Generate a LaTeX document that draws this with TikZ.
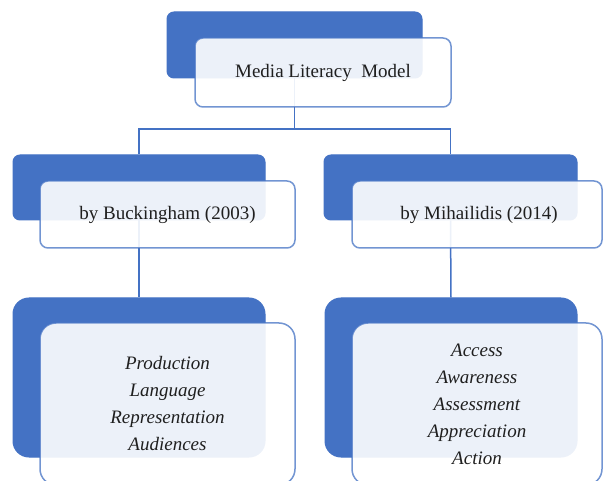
\documentclass[tikz,border=0pt]{standalone}
\usepackage{fontspec}
\setmainfont{Liberation Serif}
\definecolor{accent}{HTML}{4472C4}
\begin{document}
\begin{tikzpicture}[x=1pt,y=-1pt,
  darkbox/.style={draw=accent, fill=accent, rounded corners=7pt, inner sep=0pt, line width=1pt},
  lightbox/.style={draw=accent, draw opacity=0.75, fill=white, fill opacity=0.9, text opacity=1,
     rounded corners=8pt, line width=1.5pt, inner sep=0pt, align=center,
     font=\fontsize{19}{27}\selectfont, text=black!88},
  link/.style={draw=accent, line width=1.5pt}]
\useasboundingbox (0,0) rectangle (603,481);
\clip (0,0) rectangle (603,481);
% dark back boxes
\node[darkbox, minimum width=255pt, minimum height=66pt] (topd) at (294.5,45) {};
\node[darkbox, minimum width=252pt, minimum height=65pt] (lmd) at (139,187.5) {};
\node[darkbox, minimum width=253pt, minimum height=65pt] (rmd) at (450.5,187.5) {};
\node[darkbox, rounded corners=16pt, minimum width=252pt, minimum height=159pt] (lbd) at (139,377.5) {};
\node[darkbox, rounded corners=16pt, minimum width=252pt, minimum height=159pt] (rbd) at (451,377.5) {};
% connectors
\coordinate (j) at (294.5,129);
\draw[link] (topd.south) -- (j) -| (lmd.north);
\draw[link] (j) -| (rmd.north);
\draw[link] (lmd.south) -- (lbd.north);
\draw[link] (rmd.south) -- (rbd.north);
% light front boxes
\node[lightbox, minimum width=256pt, minimum height=69pt] (top) at (323,72.5) {Media Literacy\ \ Model};
\node[lightbox, minimum width=255pt, minimum height=67pt] (lm) at (167.5,214.5) {by Buckingham (2003)};
\node[lightbox, minimum width=250pt, minimum height=67pt] (rm) at (477,214.5) {\hspace{4pt}by Mihailidis (2014)};
\node[lightbox, rounded corners=16pt, minimum width=255pt, minimum height=162pt] (lb) at (167.5,404)
  {\itshape Production\\\itshape Language\\\itshape Representation\\\itshape Audiences};
\node[lightbox, rounded corners=16pt, minimum width=250pt, minimum height=162pt] (rb) at (477,404)
  {\itshape Access\\\itshape Awareness\\\itshape Assessment\\\itshape Appreciation\\\itshape Action};
\end{tikzpicture}
\end{document}
